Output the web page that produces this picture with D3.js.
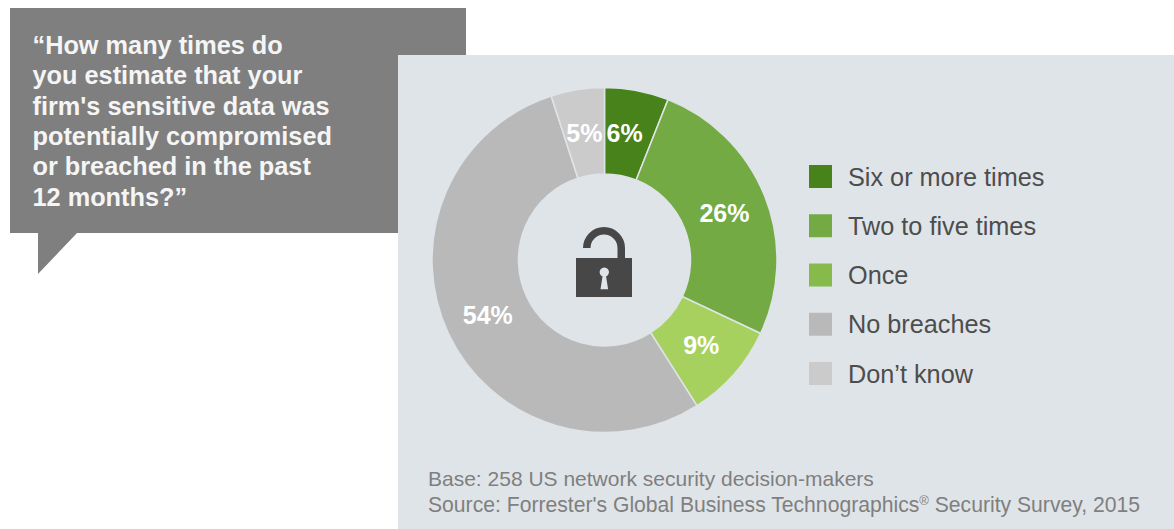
<!DOCTYPE html>
<html>
<head>
<meta charset="utf-8">
<script src="https://cdn.jsdelivr.net/npm/d3@7/dist/d3.min.js"></script>
<style>
  html, body { margin: 0; padding: 0; background: #fff; }
  svg { display: block; font-family: "Liberation Sans", Arial, sans-serif; }
</style>
</head>
<body>
<svg id="chart" width="1174" height="529"></svg>
<script>
const categories = ["Six or more times", "Two to five times", "Once", "No breaches", "Don\u2019t know"];
const shares = [6, 26, 9, 54, 5];
const sliceColors = ["#47821a", "#74aa43", "#a6d15f", "#b9b9b9", "#cbcbcb"];
const legendColors = ["#47821a", "#74aa43", "#86bb4c", "#b9b9b9", "#cbcbcb"];
const questionLines = [
  "\u201cHow many times do",
  "you estimate that your",
  "firm's sensitive data was",
  "potentially compromised",
  "or breached in the past",
  "12 months?\u201d"
];

const panelColor = "#dfe4e8";
const svg = d3.select("#chart");

// Speech bubble behind the panel
svg.append("path")
  .attr("d", "M10,8H466V233H77L38,274V233H10Z")
  .attr("fill", "#7f7f7f");

svg.append("g").selectAll("text").data(questionLines).join("text")
  .attr("x", 32.5)
  .attr("y", (d, i) => 54 + i * 30.3)
  .attr("fill", "#f5f5f5")
  .attr("font-size", 25.3)
  .attr("font-weight", "bold")
  .text(d => d);

// Panel holding the donut, legend and notes
svg.append("rect")
  .attr("x", 398).attr("y", 55)
  .attr("width", 776).attr("height", 474)
  .attr("fill", panelColor);

// Donut
const cx = 604.5, cy = 260;
const pie = d3.pie().value(d => d).sort(null);
const arc = d3.arc().innerRadius(86).outerRadius(172.5);
const labelArc = d3.arc().innerRadius(129).outerRadius(129);
const arcs = pie(shares);

const donut = svg.append("g").attr("transform", `translate(${cx},${cy})`);
donut.selectAll("path").data(arcs).join("path")
  .attr("d", arc)
  .attr("fill", (d, i) => sliceColors[i])
  .attr("stroke", panelColor)
  .attr("stroke-width", 1.5);

// The narrow first slice's label sits a little toward the start of its arc
const labelNudge = [-4, 0, 0, 0, 0];
donut.selectAll("text").data(arcs).join("text")
  .attr("x", (d, i) => labelArc.centroid(d)[0] + labelNudge[i])
  .attr("y", d => labelArc.centroid(d)[1] + 9)
  .attr("text-anchor", "middle")
  .attr("fill", "#fff")
  .attr("font-size", 25)
  .attr("font-weight", "bold")
  .text(d => d.value + "%");

// Open padlock in the donut hole
const lock = svg.append("g").attr("transform", `translate(${cx},${cy})`);
lock.append("path")
  .attr("d", "M-17.75,-12A17.25,17.25 0 0 1 16.75,-12V0")
  .attr("fill", "none")
  .attr("stroke", "#474747")
  .attr("stroke-width", 7.5);
lock.append("rect")
  .attr("x", -28.5).attr("y", -2)
  .attr("width", 56).attr("height", 39)
  .attr("fill", "#474747");
lock.append("path")
  .attr("d", "M-2,16.5A4.7,4.7 0 1 1 1.6,16.5L3.6,29.3H-4Z")
  .attr("fill", panelColor);

// Legend
const legendY = d3.scalePoint().domain(categories).range([176.5, 373.5]);
const legend = svg.append("g").selectAll("g").data(categories).join("g")
  .attr("transform", d => `translate(809,${legendY(d)})`);
legend.append("rect")
  .attr("y", -11.5)
  .attr("width", 23).attr("height", 23)
  .attr("fill", (d, i) => legendColors[i]);
legend.append("text")
  .attr("x", 39).attr("y", 9)
  .attr("fill", "#4d4d4d")
  .attr("font-size", 25.25)
  .text(d => d);

// Notes
const notes = svg.append("g")
  .attr("fill", "#7f7f7f")
  .attr("font-size", 21);
notes.append("text").attr("x", 428).attr("y", 486)
  .text("Base: 258 US network security decision-makers");
const source = notes.append("text").attr("x", 428).attr("y", 512).attr("font-size", 21.15);
source.append("tspan").text("Source: Forrester's Global Business Technographics");
source.append("tspan").attr("font-size", 13).attr("dy", -7).text("\u00ae");
source.append("tspan").attr("dy", 7).text(" Security Survey, 2015");
</script>
</body>
</html>
